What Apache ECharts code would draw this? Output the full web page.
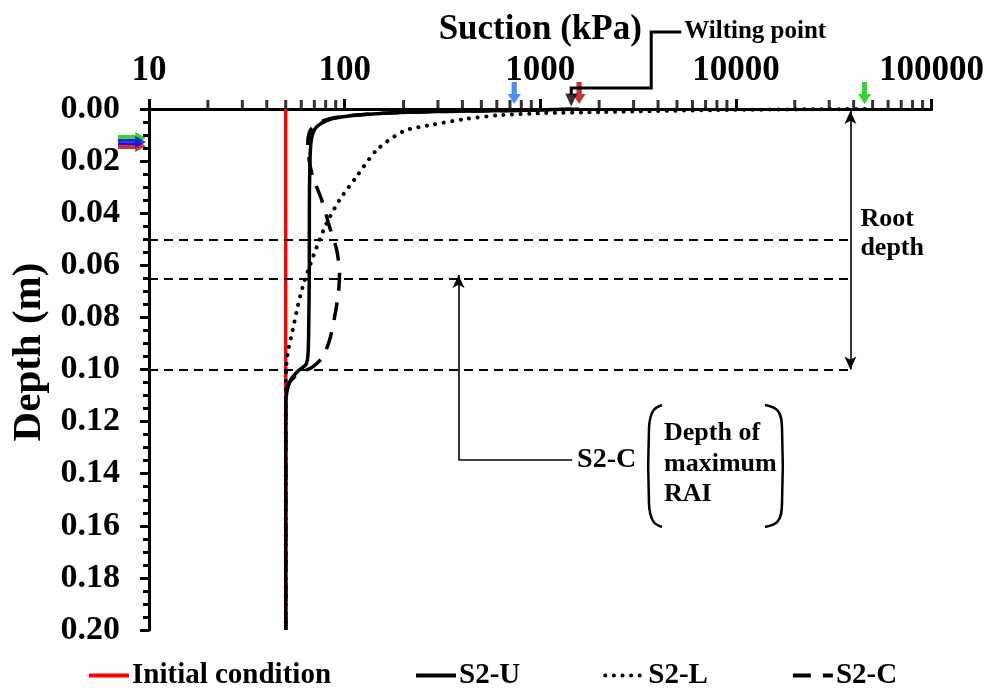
<!DOCTYPE html>
<html><head><meta charset="utf-8">
<script src="https://cdn.jsdelivr.net/npm/echarts@6/dist/echarts.min.js"></script>
<style>html,body{margin:0;padding:0;background:#fff}#c{width:987px;height:688px}</style>
</head><body><div id="c"></div>
<script>
const FONT = "'Liberation Serif','Times New Roman',serif";

// ---- data ----
const seriesNames = ['Initial condition', 'S2-U', 'S2-L', 'S2-C'];
const suctionTickLabels = [10, 100, 1000, 10000, 100000];
const depthTickLabels = [0, 0.02, 0.04, 0.06, 0.08, 0.10, 0.12, 0.14, 0.16, 0.18, 0.20];
const suctionMinorTicks = [20,30,40,50,60,70,80,90,200,300,400,500,600,700,800,900,
  2000,3000,4000,5000,6000,7000,8000,9000,20000,30000,40000,50000,60000,70000,80000,90000];

const initialCondition = [[50, 0], [50, 0.2]];
const s2U = [[1440,0],[700,0.0006],[300,0.0010],[160,0.0016],[110,0.0025],[87,0.0037],[76,0.0055],
  [70,0.0080],[67.5,0.0120],[66.5,0.020],[66,0.040],[66,0.060],[65.5,0.085],[65,0.094],[63.5,0.098],
  [58,0.1005],[53,0.104],[50.8,0.108],[50,0.114],[50,0.2]];
const s2L = [[45500,0],[8000,0.0004],[2000,0.0012],[1025,0.0016],[617,0.0024],[418,0.0038],[282,0.006],
  [200,0.0085],[146,0.0157],[115,0.026],[94,0.035],[81,0.0438],[72,0.053],[66,0.0607],[61,0.0683],
  [57.5,0.076],[54.3,0.0848],[51.5,0.0925],[50.3,0.099],[50,0.108],[50,0.2]];
const s2C = [[1580,0],[700,0.0006],[300,0.0010],[160,0.0016],[105,0.0026],[85,0.0036],[73,0.0055],
  [67,0.008],[64.8,0.013],[66,0.020],[68.7,0.026],[76.4,0.035],[83.8,0.0453],[91,0.054],[94.2,0.063],
  [93,0.0706],[88.9,0.0798],[83.8,0.0887],[77.3,0.0952],[68.7,0.099],[62.5,0.1005],[56,0.1025],
  [51.5,0.106],[50,0.112],[50,0.2]];

const markerDepths = [0.05, 0.065, 0.10];       // dashed horizontal lines
const markerLineEnd = 37800;                     // suction where dashed lines end
const rootDepthX = 38500; const rootDepthRange = [0.0008, 0.10];
const maxRaiPointer = { x: 382, top: 0.0637, bottom: 0.1347, textX: 1455 };
const wiltingPoint = 1440;
const topArrows = [{ v: 736, c: '#1f6fff' }, { v: 1580, c: '#c00000' }, { v: 45500, c: '#00cc00' }];
const leftArrows = [{ d: 0.0142, c: '#c00000' }, { d: 0.0111, c: '#00cc00' }, { d: 0.0127, c: '#0000ff' }];

// ---- chart ----
const chart = echarts.init(document.getElementById('c'));
const bold = (size) => ({ fontFamily: FONT, fontWeight: 'bold', fontSize: size, color: '#000' });
const downArrow = 'path://M3,0 L7,0 L7,11 L10,11 L5,20 L0,11 L3,11 Z';
const rightArrow = 'path://M0,3 L16,3 L16,0 L26,6 L16,12 L16,9 L0,9 Z';

const option = {
  animation: false,
  backgroundColor: '#fff',
  grid: { left: 149, right: 54, top: 109, bottom: 58, containLabel: false },
  legend: {
    data: seriesNames, left: 82, top: 656, itemWidth: 40, itemHeight: 14, itemGap: 83,
    itemStyle: { opacity: 0 }, lineStyle: { width: 4 },
    textStyle: Object.assign(bold(29), { padding: [0, 0, 0, -2] })
  },
  xAxis: {
    type: 'log', logBase: 10, min: 10, max: 100000, position: 'top',
    name: 'Suction (kPa)', nameLocation: 'middle', nameGap: 62, nameTextStyle: bold(35),
    axisLine: { show: true, lineStyle: { color: '#000', width: 3 } },
    axisTick: { show: true, length: 10, lineStyle: { color: '#000', width: 3 } },
    minorTick: { show: false }, splitLine: { show: false }, minorSplitLine: { show: false },
    axisLabel: Object.assign(bold(35), { margin: 21,
      formatter: v => { const r = Math.round(v); return suctionTickLabels.includes(r) ? String(r) : ''; } })
  },
  yAxis: {
    type: 'value', inverse: true, min: 0, max: 0.2, interval: 0.02,
    axisLine: { show: true, lineStyle: { color: '#000', width: 3 } },
    axisTick: { show: true, length: 9, lineStyle: { color: '#000', width: 3 } },
    minorTick: { show: true, splitNumber: 4, length: 6, lineStyle: { color: '#000', width: 3 } },
    splitLine: { show: false },
    axisLabel: Object.assign(bold(34), { margin: 29, formatter: v => v.toFixed(2) })
  },
  series: [
    { name: 'Initial condition', type: 'line', data: initialCondition, symbol: 'none',
      lineStyle: { color: '#ff0000', width: 3.5 }, itemStyle: { color: '#ff0000' }, z: 2 },
    { name: 'S2-U', type: 'line', data: s2U, symbol: 'none', smooth: 0.25,
      lineStyle: { color: '#000', width: 3.5 }, itemStyle: { color: '#000' }, z: 3 },
    { name: 'S2-L', type: 'line', data: s2L, symbol: 'none', smooth: 0.25,
      lineStyle: { color: '#000', width: 4, type: [0.1, 8.5], cap: 'round' }, itemStyle: { color: '#000' }, z: 3 },
    { name: 'S2-C', type: 'line', data: s2C, symbol: 'none', smooth: 0.25,
      lineStyle: { color: '#000', width: 3.5, type: [18, 12] }, itemStyle: { color: '#000' }, z: 3 },
    { name: 'annot', type: 'line', data: [], silent: true, z: 1,
      markLine: {
        silent: true, animation: false, label: { show: false }, symbol: 'none',
        data: [
          ...markerDepths.map(d => [{ coord: [10, d], lineStyle: { color: '#000', width: 2, type: [9, 6] } },
                                    { coord: [markerLineEnd, d] }]),
          [{ coord: [rootDepthX, rootDepthRange[0]], symbol: 'arrow', symbolSize: [9, 13],
             lineStyle: { color: '#000', width: 1.6, type: 'solid' } },
           { coord: [rootDepthX, rootDepthRange[1]], symbol: 'arrow', symbolSize: [9, 13] }],
          [{ coord: [maxRaiPointer.x, maxRaiPointer.bottom], symbol: 'none',
             lineStyle: { color: '#000', width: 1.6, type: 'solid' } },
           { coord: [maxRaiPointer.x, maxRaiPointer.top], symbol: 'arrow', symbolSize: [9, 13] }],
          [{ coord: [maxRaiPointer.x, maxRaiPointer.bottom], symbol: 'none',
             lineStyle: { color: '#000', width: 1.6, type: 'solid' } },
           { coord: [maxRaiPointer.textX, maxRaiPointer.bottom], symbol: 'none' }]
        ]
      } },
    { name: 'minorTicks', type: 'scatter', silent: true, clip: false, z: 5,
      data: suctionMinorTicks.map(v => [v, 0]), symbol: 'rect', symbolSize: [3, 8], symbolOffset: [0, -5],
      itemStyle: { color: '#000' } },
    ...topArrows.map(a => ({ name: 'arrow', type: 'scatter', silent: true, clip: false, z: 6,
      data: [[a.v, 0]], symbol: downArrow, symbolKeepAspect: false, symbolSize: [13, 22], symbolOffset: [0, -16],
      itemStyle: { color: a.c } })),
    { name: 'wilt', type: 'scatter', silent: true, clip: false, z: 6,
      data: [[wiltingPoint, 0]], symbol: 'path://M0,0 L10,0 L5,10 Z', symbolKeepAspect: false,
      symbolSize: [12, 13], symbolOffset: [0, -9], itemStyle: { color: '#000' } },
    ...leftArrows.map(a => ({ name: 'arrow', type: 'scatter', silent: true, clip: false, z: 6,
      data: [[10, a.d]], symbol: rightArrow, symbolKeepAspect: false, symbolSize: [28, 12], symbolOffset: [-17, 0],
      itemStyle: { color: a.c } }))
  ]
};
chart.setOption(option);

const wp = chart.convertToPixel({ xAxisIndex: 0, yAxisIndex: 0 }, [wiltingPoint, 0]);
const rd = chart.convertToPixel({ xAxisIndex: 0, yAxisIndex: 0 }, [rootDepthX, 0.05]);
const mp = chart.convertToPixel({ xAxisIndex: 0, yAxisIndex: 0 }, [maxRaiPointer.textX, maxRaiPointer.bottom]);
const txt = (x, y, text, size, align) => ({ type: 'text', silent: true, z: 10,
  style: { x, y, text, font: 'bold ' + size + 'px ' + FONT, fill: '#000', textAlign: align || 'left', textVerticalAlign: 'middle' } });
const paren = (pts) => ({ type: 'polyline', silent: true, z: 10,
  shape: { points: pts, smooth: 0.4 }, style: { stroke: '#000', lineWidth: 2.5, fill: null } });
chart.setOption({
  graphic: [
    { type: 'polyline', silent: true, z: 10,
      shape: { points: [[wp[0], wp[1] - 14], [wp[0], wp[1] - 21], [wp[0] + 80, wp[1] - 21], [wp[0] + 80, wp[1] - 77], [wp[0] + 110, wp[1] - 77]] },
      style: { stroke: '#000', lineWidth: 3, fill: null } },
    txt(wp[0] + 113, wp[1] - 77, 'Wilting point', 25),
    txt(rd[0] + 10, 219, 'Root', 26),
    txt(rd[0] + 10, 248, 'depth', 26),
    txt(mp[0] + 5, mp[1], 'S2-C', 28),
    txt(664, 433, 'Depth of', 26),
    txt(664, 464, 'maximum', 26),
    txt(664, 494, 'RAI', 26),
    { type: 'text', silent: true, z: 10, x: 29, y: 352, rotation: Math.PI / 2,
      style: { x: 0, y: 0, text: 'Depth (m)', font: 'bold 41px ' + FONT, fill: '#000', textAlign: 'center', textVerticalAlign: 'middle' } },
    paren([[662, 405], [653, 411], [649, 428], [649, 504], [653, 521], [662, 527]]),
    paren([[765, 405], [778, 411], [782, 428], [782, 504], [778, 521], [765, 527]])
  ]
});
</script></body></html>
